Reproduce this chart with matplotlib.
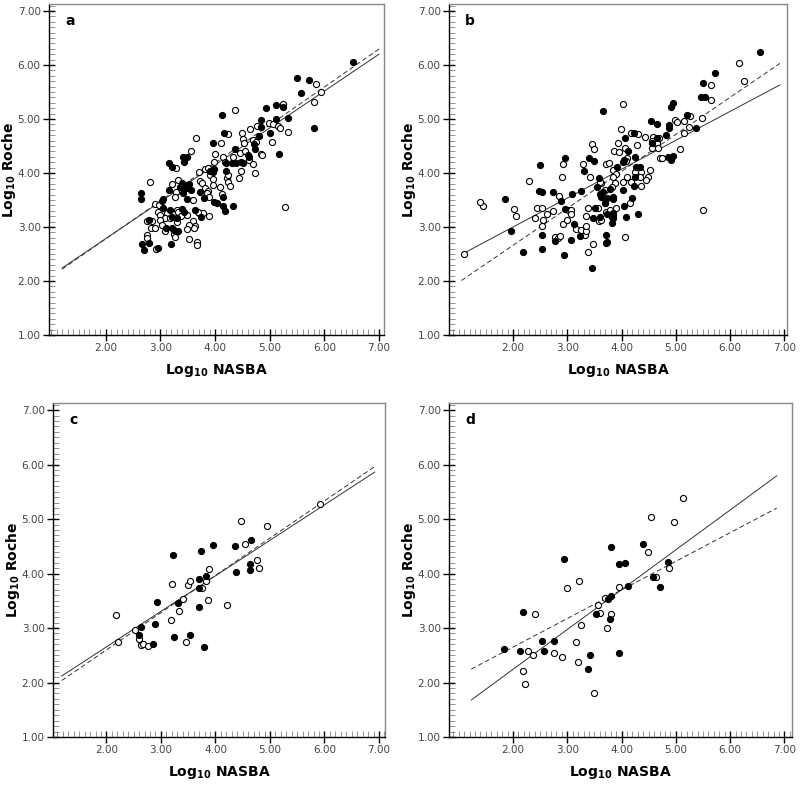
import matplotlib
matplotlib.use("Agg")
import numpy as np
from matplotlib import pyplot as plt
from matplotlib.ticker import MultipleLocator, FormatStrFormatter

plt.rcParams["font.family"] = ["DejaVu Sans"]

# panel a
a_filled_x = [6.52, 5.50, 5.72, 5.57, 5.81, 4.93, 5.11, 5.24, 5.33, 4.13, 4.84, 5.11, 4.84, 4.16,
              5.00, 4.80, 4.71, 4.73, 4.36, 4.47, 4.51, 4.60, 4.62, 5.17, 4.20, 4.14, 4.14, 4.18,
              4.33, 3.96, 3.91, 3.96, 3.98, 4.20, 4.31, 4.38, 3.80, 3.72, 3.49, 3.56, 3.47, 3.98,
              4.03, 3.63, 3.74, 3.16, 3.21, 3.41, 3.49, 3.43, 3.39, 3.52, 3.16, 3.36, 3.41, 2.65,
              2.65, 3.05, 3.03, 3.05, 3.18, 3.39, 3.43, 3.30, 3.21, 2.79, 3.10, 3.21, 3.25, 3.32,
              2.66, 2.79, 2.70, 3.19, 2.96]
a_filled_y = [6.06, 5.76, 5.72, 5.48, 4.83, 5.20, 5.26, 5.22, 5.02, 5.07, 4.98, 5.00, 4.85, 4.74,
              4.74, 4.69, 4.54, 4.44, 4.44, 4.20, 4.19, 4.33, 4.30, 4.35, 4.04, 3.56, 3.39, 3.30,
              3.39, 4.56, 4.04, 4.02, 4.07, 4.19, 4.19, 4.19, 3.54, 3.65, 3.52, 3.69, 3.72, 3.46,
              3.44, 3.31, 3.19, 4.19, 4.11, 4.30, 4.30, 4.20, 3.81, 3.80, 3.69, 3.74, 3.63, 3.63,
              3.52, 3.52, 3.48, 3.35, 3.31, 3.33, 3.28, 3.17, 3.19, 3.13, 2.98, 2.98, 2.94, 2.93,
              2.69, 2.70, 2.57, 2.69, 2.61]
a_open_x = [5.85, 5.94, 5.81, 5.24, 4.36, 4.99, 5.06, 5.15, 5.19, 4.77, 4.64, 5.33, 4.49, 4.24,
            4.51, 4.53, 4.69, 4.75, 5.04, 4.46, 4.55, 4.33, 4.14, 4.18, 4.84, 4.86, 4.62, 4.69,
            4.73, 4.47, 4.44, 4.22, 4.24, 4.27, 4.09, 4.13, 5.28, 4.11, 3.65, 3.56, 4.00, 3.98,
            3.82, 3.87, 3.71, 3.91, 3.96, 3.72, 3.76, 3.82, 3.87, 3.96, 4.24, 3.85, 3.89, 3.60,
            3.71, 3.78, 3.89, 2.81, 3.21, 3.32, 3.29, 3.29, 2.90, 2.97, 2.96, 3.43, 3.27, 3.12,
            3.30, 3.32, 3.38, 3.49, 2.99, 3.08, 3.18, 3.69, 2.76, 2.85, 2.99, 3.30, 3.60, 3.63,
            3.61, 3.52, 3.49, 2.83, 2.90, 3.03, 3.08, 3.25, 3.27, 2.76, 2.76, 3.52, 3.67, 3.67,
            2.92]
a_open_y = [5.65, 5.50, 5.31, 5.28, 5.17, 4.93, 4.91, 4.87, 4.83, 4.87, 4.81, 4.76, 4.74, 4.72,
            4.63, 4.56, 4.61, 4.57, 4.57, 4.37, 4.41, 4.30, 4.30, 4.20, 4.35, 4.33, 4.24, 4.17,
            4.00, 4.04, 3.91, 3.91, 3.83, 3.76, 3.74, 3.61, 3.37, 4.56, 4.65, 4.41, 4.35, 4.20,
            4.07, 4.09, 4.02, 3.96, 3.89, 3.85, 3.81, 3.72, 3.67, 3.78, 3.96, 3.63, 3.56, 3.50,
            3.26, 3.26, 3.20, 3.83, 3.80, 3.87, 4.09, 3.65, 3.43, 3.41, 3.28, 3.70, 3.56, 3.26,
            3.31, 3.28, 3.20, 3.22, 3.22, 3.17, 3.17, 3.28, 3.11, 3.11, 3.13, 3.09, 3.11, 3.02,
            2.98, 3.04, 2.96, 2.98, 2.98, 3.04, 2.93, 2.87, 2.81, 2.85, 2.80, 2.78, 2.72, 2.67,
            2.59]

# panel b
b_filled_x = [1.85, 1.96, 2.19, 2.49, 2.48, 2.53, 2.54, 2.54, 2.73, 2.88, 2.96, 2.78, 2.94, 2.96,
              3.08, 3.07, 3.13, 3.25, 3.31, 3.24, 3.40, 3.50, 3.48, 3.51, 3.55, 3.60, 3.58, 3.45,
              3.63, 3.60, 3.73, 3.85, 3.84, 3.82, 3.69, 3.71, 3.72, 3.74, 3.85, 4.08, 4.05, 4.02,
              6.55, 5.73, 5.51, 5.46, 5.53, 4.94, 4.92, 3.66, 5.21, 4.54, 4.65, 4.88, 4.87, 5.37,
              4.82, 4.23, 4.06, 4.65, 4.57, 4.86, 4.91, 4.94, 4.12, 4.25, 4.02, 4.05, 3.91, 4.34,
              4.26, 4.25, 4.23, 3.79, 3.66, 3.73, 3.69, 3.85, 4.20, 3.85, 3.82, 4.30]
b_filled_y = [3.51, 2.93, 2.54, 4.15, 3.67, 3.64, 2.85, 2.59, 3.64, 3.49, 4.27, 2.74, 2.49, 3.33,
              3.61, 2.76, 3.06, 3.67, 4.04, 2.84, 4.27, 4.23, 3.16, 3.36, 3.75, 3.62, 3.90, 2.25,
              3.55, 3.19, 3.24, 3.22, 3.16, 3.07, 3.44, 2.86, 2.70, 2.72, 3.56, 3.19, 3.39, 3.69,
              6.25, 5.86, 5.66, 5.40, 5.41, 5.29, 5.23, 5.14, 5.07, 4.96, 4.90, 4.89, 4.84, 4.83,
              4.70, 4.75, 4.65, 4.64, 4.55, 4.30, 4.25, 4.31, 4.41, 4.29, 4.20, 4.24, 4.12, 4.12,
              4.11, 3.92, 3.76, 3.70, 3.65, 3.53, 3.45, 3.51, 3.54, 3.26, 3.18, 3.24]
b_open_x = [1.09, 1.44, 1.39, 2.02, 2.05, 2.29, 2.44, 2.53, 2.40, 2.56, 2.54, 2.62, 2.73, 2.84,
            2.90, 2.93, 2.77, 2.82, 2.86, 2.92, 3.00, 3.01, 3.06, 3.07, 3.17, 3.26, 3.29, 3.32,
            3.35, 3.34, 3.34, 3.39, 3.45, 3.49, 3.42, 3.57, 3.63, 3.69, 3.48, 3.39, 3.59, 3.63,
            3.72, 3.79, 3.71, 3.77, 3.90, 4.06, 6.17, 6.26, 5.64, 5.65, 4.03, 5.26, 5.16, 5.25,
            5.48, 4.98, 5.02, 5.16, 3.99, 4.17, 4.30, 4.44, 4.58, 4.69, 4.57, 4.65, 4.56, 4.28,
            3.94, 4.67, 4.71, 4.74, 5.08, 3.87, 3.95, 4.06, 4.11, 4.08, 4.52, 4.49, 4.45, 4.35,
            4.28, 4.35, 4.34, 4.25, 4.11, 4.17, 3.85, 3.89, 3.84, 4.03, 3.88, 3.82, 3.60, 4.16,
            5.51]
b_open_y = [2.50, 3.39, 3.47, 3.33, 3.21, 3.86, 3.36, 3.36, 3.16, 3.13, 3.01, 3.24, 3.30, 3.58,
            3.93, 4.17, 2.82, 2.79, 2.83, 3.05, 3.13, 3.31, 3.31, 3.24, 2.96, 2.94, 4.17, 2.85,
            2.93, 3.01, 3.21, 3.35, 4.54, 4.44, 3.93, 3.36, 3.81, 3.69, 2.68, 2.53, 3.11, 3.13,
            3.28, 3.31, 4.17, 4.18, 3.36, 2.82, 6.03, 5.71, 5.63, 5.36, 5.28, 5.06, 4.97, 4.86,
            5.01, 4.98, 4.95, 4.75, 4.81, 4.75, 4.72, 4.67, 4.67, 4.64, 4.59, 4.55, 4.46, 4.52,
            4.55, 4.46, 4.28, 4.28, 4.44, 4.41, 4.39, 4.46, 4.28, 4.23, 4.06, 3.93, 3.87, 3.76,
            4.06, 4.01, 3.93, 4.02, 3.93, 3.84, 4.06, 3.98, 3.93, 3.84, 3.81, 3.75, 3.84, 3.45,
            3.31]

# panel c
c_filled_x = [2.63, 2.59, 2.86, 2.90, 2.92, 3.23, 3.24, 3.31, 3.54, 3.69, 3.70, 3.70, 3.74, 3.83,
              3.79, 3.96, 4.36, 4.38, 4.65, 4.64, 4.64]
c_filled_y = [3.02, 2.87, 2.70, 3.08, 3.48, 4.34, 2.83, 3.46, 2.88, 3.74, 3.90, 3.38, 4.42, 3.95,
              2.66, 4.53, 4.50, 4.03, 4.62, 4.18, 4.06]
c_open_x = [2.17, 2.21, 2.52, 2.60, 2.63, 2.68, 2.77, 3.21, 3.18, 3.34, 3.41, 3.49, 3.54, 3.46,
            3.75, 3.82, 3.89, 3.86, 4.22, 4.46, 4.55, 4.77, 4.80, 4.95, 5.91]
c_open_y = [3.24, 2.74, 2.96, 2.80, 2.68, 2.71, 2.67, 3.81, 3.15, 3.32, 3.53, 3.79, 3.86, 2.75,
            3.73, 3.87, 4.08, 3.51, 3.43, 4.97, 4.55, 4.24, 4.10, 4.88, 5.28]

# panel d
d_filled_x = [1.83, 2.12, 2.18, 2.54, 2.57, 2.75, 2.93, 3.42, 3.38, 3.53, 3.75, 3.80, 3.79, 3.81,
              3.95, 3.96, 4.06, 4.12, 4.39, 4.57, 4.70, 4.85]
d_filled_y = [2.61, 2.58, 3.29, 2.77, 2.58, 2.77, 4.27, 2.50, 2.25, 3.26, 3.54, 3.59, 3.16, 4.48,
              2.54, 4.17, 4.20, 3.78, 4.54, 3.93, 3.75, 4.21]
d_open_x = [2.19, 2.22, 2.28, 2.37, 2.40, 2.75, 2.90, 2.99, 3.22, 3.16, 3.20, 3.26, 3.50, 3.57,
            3.61, 3.70, 3.73, 3.81, 3.95, 4.49, 4.55, 4.63, 4.88, 4.96, 5.13]
d_open_y = [2.21, 1.98, 2.57, 2.50, 3.26, 2.54, 2.46, 3.74, 3.87, 2.74, 2.38, 3.06, 1.81, 3.43,
            3.28, 3.56, 3.00, 3.25, 3.75, 4.39, 5.04, 3.94, 4.11, 4.95, 5.39]

# fitted lines: intercept, slope, x start, x end
fits = {
    "a": {"solid": (1.42, 0.683), "dashed": (1.376, 0.703), "span": (1.2, 7.0)},
    "b": {"solid": (1.93, 0.535), "dashed": (1.29, 0.685), "span": (1.05, 6.92)},
    "c": {"solid": (1.35, 0.652), "dashed": (1.23, 0.684), "span": (1.18, 6.92)},
    "d": {"solid": (0.78, 0.731), "dashed": (1.60, 0.525), "span": (1.23, 6.86)},
}

panels = {
    "a": (a_filled_x, a_filled_y, a_open_x, a_open_y),
    "b": (b_filled_x, b_filled_y, b_open_x, b_open_y),
    "c": (c_filled_x, c_filled_y, c_open_x, c_open_y),
    "d": (d_filled_x, d_filled_y, d_open_x, d_open_y),
}

W, H = 800, 791
# pixel boxes: left, top, right, bottom
boxes = {
    "a": (49, 4, 384, 335),
    "b": (449, 4, 787, 335),
    "c": (53, 403, 385, 737),
    "d": (449, 403, 792, 737),
}
xlims = {"a": (0.96, 7.09), "b": (0.82, 7.05), "c": (1.02, 7.11), "d": (0.82, 7.14)}

fig = plt.figure(figsize=(W / 100, H / 100), dpi=100)

for name, (l, t, r, b) in boxes.items():
    ax = fig.add_axes([l / W, 1 - b / H, (r - l) / W, (b - t) / H])
    fx, fy, ox, oy = panels[name]
    fit = fits[name]
    xs = np.array(fit["span"])
    ic, sl = fit["solid"]
    ax.plot(xs, ic + sl * xs, color="#333333", lw=0.7, zorder=1)
    ic, sl = fit["dashed"]
    ax.plot(xs, ic + sl * xs, color="#333333", lw=0.7, ls=(0, (5, 3)), zorder=1)
    ax.plot(ox, oy, "o", ms=4.4, mfc="white", mec="black", mew=0.8, ls="none", zorder=2)
    ax.plot(fx, fy, "o", ms=4.4, mfc="black", mec="black", mew=0.8, ls="none", zorder=3)

    ax.set_xlim(*xlims[name])
    ax.set_ylim(1.0, 7.13)
    ax.set_xticks(np.arange(2, 8))
    ax.set_yticks(np.arange(1, 8))
    ax.xaxis.set_minor_locator(MultipleLocator(0.1))
    ax.yaxis.set_minor_locator(MultipleLocator(0.1))
    ax.xaxis.set_major_formatter(FormatStrFormatter("%.2f"))
    ax.yaxis.set_major_formatter(FormatStrFormatter("%.2f"))
    ax.tick_params(which="major", direction="inout", length=8, width=1.0,
                   labelsize=7.5, labelcolor="#444444", pad=2)
    ax.tick_params(which="minor", direction="in", length=4, width=0.5, color="#666666")
    for side in ("left", "bottom"):
        ax.spines[side].set_linewidth(1.0)
        ax.spines[side].set_color("black")
    for side in ("top", "right"):
        ax.spines[side].set_linewidth(1.0)
        ax.spines[side].set_color("#888888")

    ax.set_xlabel(r"Log$_{\mathbf{10}}$ NASBA", fontsize=10, fontweight="bold", labelpad=6)
    ax.set_ylabel(r"Log$_{\mathbf{10}}$ Roche", fontsize=10, fontweight="bold")
    ax.yaxis.set_label_coords(-31 / (r - l), 0.5)
    ax.text(0.063, 0.948, name, transform=ax.transAxes, fontsize=10, fontweight="bold",
            ha="center", va="center")

fig.savefig("out.png", dpi=100)
